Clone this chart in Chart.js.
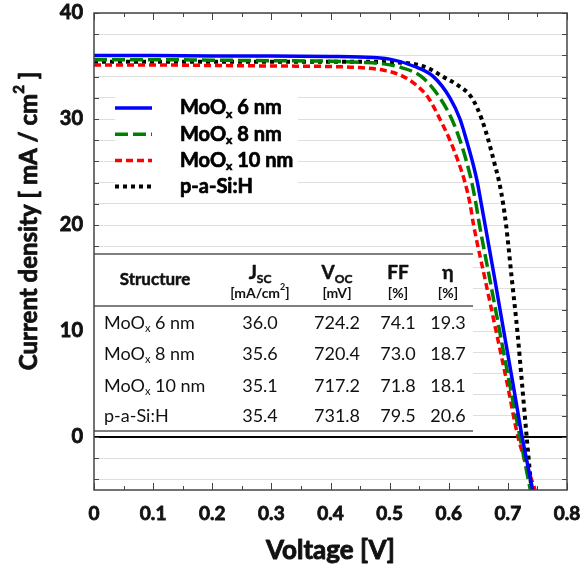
<!DOCTYPE html>
<html>
<head>
<meta charset="utf-8">
<script src="https://cdn.jsdelivr.net/npm/chart.js@4.4.0/dist/chart.umd.min.js"></script>
<style>
  html, body { margin: 0; padding: 0; background: #fff; }
  #wrap { width: 582px; height: 569px; position: relative; }
</style>
</head>
<body>
<div id="wrap"><canvas id="jv-chart"></canvas></div>
<script>
// J-V curves (voltage in V, current density in mA/cm2)
var seriesNames = ["MoO_x 6 nm", "MoO_x 8 nm", "MoO_x 10 nm", "p-a-Si:H"];

var voltage6 = [0, 0.1, 0.2, 0.3, 0.4, 0.45, 0.5, 0.54, 0.574, 0.602, 0.619, 0.630, 0.640, 0.6485, 0.655, 0.6615, 0.6775, 0.693, 0.7087, 0.7242, 0.742];
var current6 = [36.0, 36.0, 35.95, 35.95, 35.9, 35.85, 35.65, 35.0, 34.0, 32.0, 30.0, 28.0, 26.0, 24.0, 22.0, 20.0, 15.0, 10.0, 5.0, 0.0, -5.0];

var voltage8 = [0, 0.1, 0.2, 0.3, 0.4, 0.45, 0.49, 0.52, 0.554, 0.585, 0.605, 0.619, 0.630, 0.639, 0.646, 0.652, 0.669, 0.686, 0.703, 0.7204, 0.738];
var current8 = [35.6, 35.6, 35.55, 35.5, 35.45, 35.35, 35.2, 34.85, 34.0, 32.0, 30.0, 28.0, 26.0, 24.0, 22.0, 20.0, 15.0, 10.0, 5.0, 0.0, -5.0];

var voltage10 = [0, 0.1, 0.2, 0.3, 0.4, 0.45, 0.49, 0.52, 0.545, 0.5655, 0.585, 0.602, 0.616, 0.6275, 0.636, 0.642, 0.661, 0.680, 0.699, 0.7172, 0.746];
var current10 = [35.1, 35.1, 35.05, 35.0, 34.95, 34.85, 34.6, 34.1, 33.2, 32.0, 30.0, 28.0, 26.0, 24.0, 22.0, 20.0, 15.0, 10.0, 5.0, 0.0, -5.0];

var voltageSi = [0, 0.1, 0.2, 0.3, 0.4, 0.45, 0.5, 0.54, 0.565, 0.59, 0.615, 0.639, 0.6557, 0.667, 0.6765, 0.6855, 0.692, 0.697, 0.7065, 0.716, 0.724, 0.7318, 0.740];
var currentSi = [35.4, 35.4, 35.4, 35.4, 35.4, 35.4, 35.35, 35.2, 34.8, 34.0, 33.2, 32.0, 30.0, 28.0, 26.0, 24.0, 22.0, 20.0, 15.0, 10.0, 5.0, 0.0, -5.0];

// inset table
var tableHeaders = ["Structure", "J_{SC}", "V_{OC}", "FF", "η"];
var tableUnits = ["", "[mA/cm^{2}]", "[mV]", "[%]", "[%]"];
var tableStructure = ["MoO_x 6 nm", "MoO_x 8 nm", "MoO_x 10 nm", "p-a-Si:H"];
var tableJsc = [36.0, 35.6, 35.1, 35.4];
var tableVoc = [724.2, 720.4, 717.2, 731.8];
var tableFF = [74.1, 73.0, 71.8, 79.5];
var tableEta = [19.3, 18.7, 18.1, 20.6];

var xTitle = "Voltage [V]";
var yTitle = "Current density [ mA / cm^{2} ]";

Chart.defaults.font.family = "Lato";

function pts(v, j) {
  return v.map(function (x, i) { return { x: x, y: j[i] }; });
}

function isMajorX(v) {
  return Math.abs(v * 10 - Math.round(v * 10)) < 1e-6;
}

// text with _{sub} and ^{sup} parts; stroke > 0 thickens the glyphs
function richParts(str) {
  var parts = [];
  var re = /([_^])\{([^}]*)\}|([_^])(\w)/g;
  var last = 0, m;
  while ((m = re.exec(str))) {
    if (m.index > last) parts.push({ t: str.slice(last, m.index), k: "" });
    parts.push({ t: m[2] || m[4], k: m[1] || m[3] });
    last = re.lastIndex;
  }
  if (last < str.length) parts.push({ t: str.slice(last), k: "" });
  return parts;
}

function drawRich(ctx, str, x, y, size, weight, align, stroke) {
  var parts = richParts(str);
  var small = Math.round(size * 0.62);
  var w = 0;
  parts.forEach(function (p) {
    ctx.font = weight + " " + (p.k ? small : size) + "px Lato";
    p.w = ctx.measureText(p.t).width;
    w += p.w;
  });
  var cx = align === "center" ? x - w / 2 : align === "right" ? x - w : x;
  ctx.textAlign = "left";
  ctx.textBaseline = "middle";
  ctx.strokeStyle = ctx.fillStyle;
  ctx.lineJoin = "round";
  parts.forEach(function (p) {
    ctx.font = weight + " " + (p.k ? small : size) + "px Lato";
    var dy = p.k === "_" ? size * 0.3 : p.k === "^" ? -size * 0.4 : 0;
    ctx.fillText(p.t, cx, y + dy);
    if (stroke) {
      ctx.lineWidth = stroke;
      ctx.strokeText(p.t, cx, y + dy);
    }
    cx += p.w;
  });
}

function hline(ctx, x1, x2, y) {
  ctx.beginPath();
  ctx.moveTo(x1, y);
  ctx.lineTo(x2, y);
  ctx.stroke();
}

var jvDecor = {
  id: "jvDecor",
  beforeDatasetsDraw: function (chart) {
    var ctx = chart.ctx, a = chart.chartArea;
    var xs = chart.scales.x, ys = chart.scales.y;
    ctx.save();

    // inward tick marks on all four sides
    ctx.strokeStyle = "#444";
    ctx.lineWidth = 1;
    xs.ticks.forEach(function (t) {
      var px = Math.round(xs.getPixelForValue(t.value)) + 0.5;
      var len = isMajorX(t.value) ? 7 : 4;
      ctx.beginPath();
      ctx.moveTo(px, a.bottom); ctx.lineTo(px, a.bottom - len);
      ctx.moveTo(px, a.top); ctx.lineTo(px, a.top + len);
      ctx.stroke();
    });
    ys.ticks.forEach(function (t) {
      var py = Math.round(ys.getPixelForValue(t.value)) + 0.5;
      ctx.beginPath();
      ctx.moveTo(a.left, py); ctx.lineTo(a.left + 5, py);
      ctx.moveTo(a.right, py); ctx.lineTo(a.right - 5, py);
      ctx.stroke();
    });

    // legend
    var L = a.left, T = a.top;
    ctx.fillStyle = "#fff";
    ctx.fillRect(L + 21, T + 76, 183, 112);
    chart.data.datasets.forEach(function (ds, i) {
      var y = T + 95 + i * 26.2;
      ctx.setLineDash(ds.borderDash || []);
      ctx.strokeStyle = ds.borderColor;
      ctx.lineWidth = ds.borderWidth;
      hline(ctx, L + 21, L + 58, y);
      ctx.setLineDash([]);
      ctx.fillStyle = "#000";
      drawRich(ctx, ds.label, L + 86, y, 20, "bold", "left", 0.7);
    });

    // table
    var colX = [61, 166, 243, 304, 354];
    ctx.fillStyle = "#fff";
    ctx.fillRect(L, T + 241, 379, 178);
    ctx.strokeStyle = "#555";
    ctx.lineWidth = 1.5;
    hline(ctx, L, L + 379, T + 241);
    hline(ctx, L, L + 379, T + 293);
    hline(ctx, L, L + 379, T + 418);
    ctx.fillStyle = "#111";
    drawRich(ctx, tableHeaders[0], L + colX[0], T + 267, 17, "bold", "center", 0.5);
    for (var c = 1; c < tableHeaders.length; c++) {
      drawRich(ctx, tableHeaders[c], L + colX[c], T + 260, 19, "bold", "center", 0.5);
      drawRich(ctx, tableUnits[c], L + colX[c], T + 280, 14, "bold", "center", 0);
    }
    var rowY = [310, 341, 373, 403];
    tableStructure.forEach(function (name, i) {
      var y = T + rowY[i];
      drawRich(ctx, name, L + 10, y, 18, "normal", "left", 0);
      drawRich(ctx, tableJsc[i].toFixed(1), L + colX[1], y, 18, "normal", "center", 0);
      drawRich(ctx, tableVoc[i].toFixed(1), L + colX[2], y, 18, "normal", "center", 0);
      drawRich(ctx, tableFF[i].toFixed(1), L + colX[3], y, 18, "normal", "center", 0);
      drawRich(ctx, tableEta[i].toFixed(1), L + colX[4], y, 18, "normal", "center", 0);
    });
    ctx.restore();
  },
  afterDatasetsDraw: function (chart) {
    var ctx = chart.ctx, a = chart.chartArea;
    ctx.save();
    ctx.strokeStyle = "#444";
    ctx.lineWidth = 1.5;
    ctx.strokeRect(a.left, a.top, a.right - a.left, a.bottom - a.top);
    ctx.restore();
  },
  afterDraw: function (chart) {
    var ctx = chart.ctx, a = chart.chartArea;
    ctx.save();
    ctx.fillStyle = "#111";
    drawRich(ctx, xTitle, (a.left + a.right) / 2, 551, 26, "bold", "center", 0.9);
    ctx.translate(29, 221);
    ctx.rotate(-Math.PI / 2);
    drawRich(ctx, yTitle, 0, 0, 24, "bold", "center", 0.8);
    ctx.restore();
  }
};

var yTickValues = [];
for (var v = -4; v <= 40; v += 2) yTickValues.push(v);

var jvChart = new Chart(document.getElementById("jv-chart").getContext("2d"), {
  type: "line",
  data: {
    datasets: [
      {
        label: seriesNames[0],
        data: pts(voltage6, current6),
        borderColor: "#0000ff",
        borderWidth: 3.5,
      },
      {
        label: seriesNames[1],
        data: pts(voltage8, current8),
        borderColor: "#008000",
        borderWidth: 3.5,
        borderDash: [13, 5],
      },
      {
        label: seriesNames[2],
        data: pts(voltage10, current10),
        borderColor: "#ff0000",
        borderWidth: 3.5,
        borderDash: [7, 4],
      },
      {
        label: seriesNames[3],
        data: pts(voltageSi, currentSi),
        borderColor: "#000000",
        borderWidth: 4,
        borderDash: [4, 4],
      },
    ],
  },
  options: {
    animation: false,
    responsive: true,
    maintainAspectRatio: false,
    devicePixelRatio: 1,
    layout: { padding: { left: 0, right: 15, top: 13, bottom: 0 } },
    elements: {
      point: { radius: 0 },
      line: { cubicInterpolationMode: "monotone", fill: false },
    },
    plugins: {
      legend: { display: false },
      tooltip: { enabled: false },
    },
    scales: {
      x: {
        type: "linear",
        min: 0,
        max: 0.8,
        ticks: {
          stepSize: 0.05,
          autoSkip: false,
          maxRotation: 0,
          padding: 12,
          color: "#111",
          textStrokeColor: "#111",
          textStrokeWidth: 0.8,
          font: { size: 19, weight: "bold" },
          callback: function (v) {
            if (!isMajorX(v)) return "";
            return v === 0 ? "0" : v.toFixed(1);
          },
        },
        grid: { display: false, drawTicks: false },
        border: { display: false },
        afterFit: function (s) {
          s.height = 79;
          s.paddingLeft = 0;
          s.paddingRight = 0;
        },
      },
      y: {
        type: "linear",
        min: -5,
        max: 40,
        afterBuildTicks: function (s) {
          s.ticks = yTickValues.map(function (v) { return { value: v }; });
        },
        ticks: {
          autoSkip: false,
          padding: 11,
          color: "#111",
          textStrokeColor: "#111",
          textStrokeWidth: 0.8,
          font: { size: 20, weight: "bold" },
          callback: function (v) { return v % 10 === 0 ? String(v) : ""; },
        },
        grid: {
          drawTicks: false,
          color: function (c) { return c.tick && c.tick.value === 0 ? "#000" : "#dedede"; },
          lineWidth: function (c) { return c.tick && c.tick.value === 0 ? 2 : 1; },
        },
        border: { display: false },
        afterFit: function (s) {
          s.width = 94;
          s.paddingTop = 0;
          s.paddingBottom = 0;
        },
      },
    },
  },
  plugins: [jvDecor],
});
</script>
</body>
</html>
